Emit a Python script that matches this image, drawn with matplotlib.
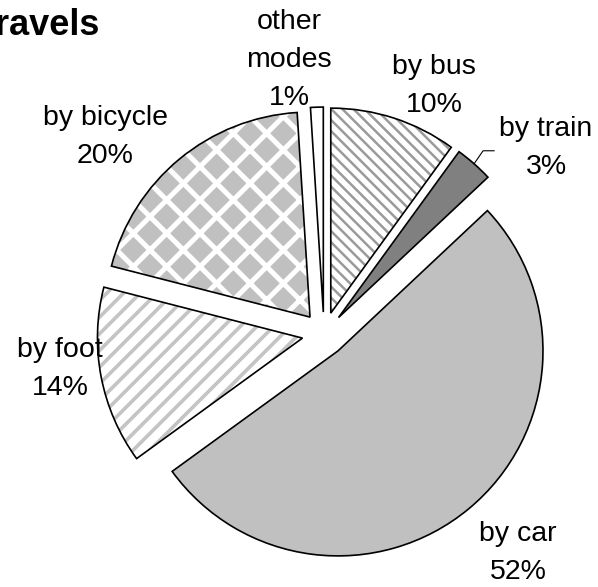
import matplotlib
matplotlib.use('Agg')
import matplotlib.pyplot as plt
import numpy as np

plt.rcParams['font.family'] = ['Liberation Sans', 'DejaVu Sans']

# datos del grafico (sentido horario desde arriba)
modos = ['by bus', 'by train', 'by car', 'by foot', 'by bicycle', 'other\nmodes']
porcentajes = [10, 3, 52, 14, 20, 1]

# estilo de cada porcion
rellenos = ['white', '#808080', '#C0C0C0', 'white', '#C0C0C0', 'white']
colores_trama = ['#9A9A9A', '#808080', '#C0C0C0', '#C4C4C4', 'white', 'white']
tramas = ['\\\\\\', None, None, '//', 'x', None]
grosor_trama = [1.8, 1.0, 1.0, 2.6, 3.6, 1.0]

# posiciones de las etiquetas (coordenadas del eje)
pos_etiquetas = [(0.537, 1.210), (1.083, 0.907), (0.946, -1.068),
                 (-1.288, -0.171), (-1.068, 0.961), (-0.171, 1.337)]

W, H = 598, 587
fig = plt.figure(figsize=(W / 100, H / 100), dpi=100)
ax = fig.add_axes([0, 0, 1, 1])

separar = [0.107] * len(porcentajes)

# 1) porciones con relleno y trama
cunas, _ = ax.pie(porcentajes, explode=separar, startangle=90, counterclock=False,
                  wedgeprops=dict(linewidth=0))
for w, f, c, t, g in zip(cunas, rellenos, colores_trama, tramas, grosor_trama):
    w.set_facecolor(f)
    w.set_edgecolor(c)
    if t:
        w.set_hatch(t)
        if hasattr(w, 'set_hatch_linewidth'):
            w.set_hatch_linewidth(g)

# 2) bordes negros encima
ax.pie(porcentajes, explode=separar, startangle=90, counterclock=False,
       wedgeprops=dict(fill=False, edgecolor='black', linewidth=1.2))

# 3) etiquetas
for nombre, p, (x, y) in zip(modos, porcentajes, pos_etiquetas):
    ax.text(x, y, nombre + '\n' + str(p) + '%', ha='center', va='center',
            fontsize=20.5, linespacing=1.58)

# linea guia de "by train"
tren = cunas[1]
ang = np.deg2rad((tren.theta1 + tren.theta2) / 2)
x0 = tren.center[0] + tren.r * np.cos(ang)
y0 = tren.center[1] + tren.r * np.sin(ang)
esc = 1 / 205
ax.plot([x0, x0 + 9 * esc, x0 + 20 * esc], [y0, y0 + 13 * esc, y0 + 13 * esc],
        color='black', linewidth=0.8)

ax.set_xlim(-324 / 205, (W - 324) / 205)
ax.set_ylim(-(H - 334) / 205, 334 / 205)
ax.set_aspect('auto')
ax.axis('off')

fig.text(100 / W, 1 - 35 / H, 'Travels', ha='right', va='baseline',
         fontsize=26, fontweight='bold')

fig.savefig('out.png', dpi=100)
